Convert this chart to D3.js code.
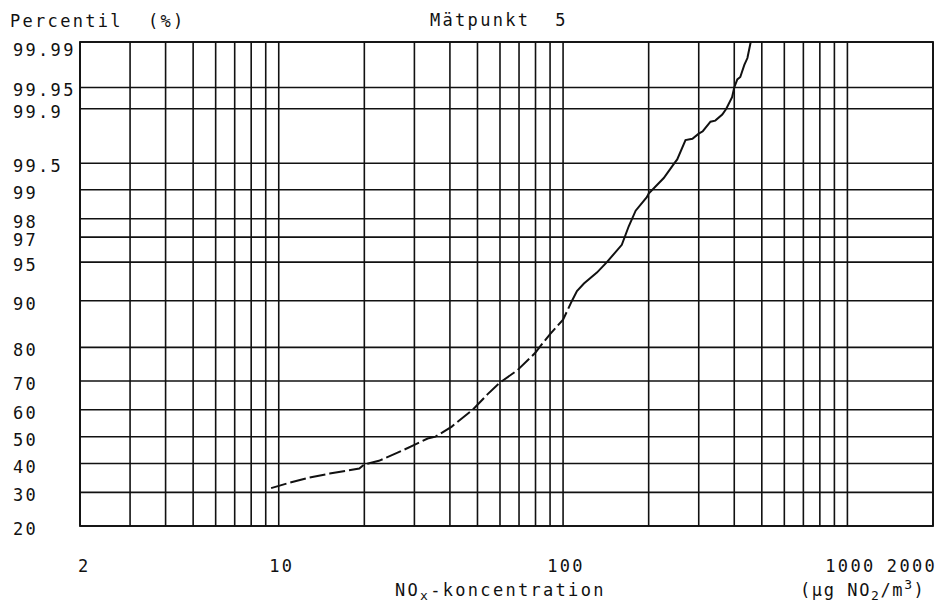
<!DOCTYPE html>
<html>
<head>
<meta charset="utf-8">
<script src="https://cdn.jsdelivr.net/npm/d3@7"></script>
<style>
  html, body { margin: 0; padding: 0; background: #fff; }
  svg text { font-family: "DejaVu Sans Mono", "Liberation Mono", monospace; fill: #111; }
</style>
</head>
<body>
<svg id="chart" width="943" height="604"></svg>
<script>
// ---- data ----
const concentration = [9.4, 10.9, 12.8, 15.1, 19.2, 20, 22.5, 26.3, 30, 33.4, 35.6, 40.6, 48.1, 54.2, 60, 69, 80, 83.2, 90, 100,
  107.5, 111.9, 118.4, 131.5, 142.6, 160.9, 170.2, 180, 197, 200, 226, 246, 252, 269.5, 285, 300, 310, 330, 343, 363, 375,
  393, 400, 410, 420, 434, 445, 457];
const percentile = [31.4, 33.2, 35.0, 36.4, 38.2, 39.7, 41.0, 44.1, 46.9, 49.3, 50.0, 53.8, 60, 65.5, 69.5, 73.4, 78.6, 80.3, 83.3, 86.5,
  90, 91.5, 92.55, 93.9, 95, 96.47, 97.63, 98.34, 98.8, 98.9, 99.26, 99.5, 99.55, 99.74, 99.75, 99.785, 99.80, 99.85, 99.855, 99.88, 99.9,
  99.931, 99.95, 99.962, 99.965, 99.977, 99.982, 99.99];
const dashedUntil = 107.5; // lower part of the trace is broken/dashed in the original

const xGridValues = [2, 3, 4, 5, 6, 7, 8, 9, 10, 20, 30, 40, 50, 60, 70, 80, 90, 100, 200, 300, 400, 500, 600, 700, 800, 900, 1000, 2000];
const xTickLabels = [2, 10, 100, 1000, 2000];
const yTicks = [20, 30, 40, 50, 60, 70, 80, 90, 95, 97, 98, 99, 99.5, 99.9, 99.95, 99.99];
const yTickLabels = ["20", "30", "40", "50", "60", "70", "80", "90", "95", "97", "98", "99", "99.5", "99.9", "99.95", "99.99"];

// ---- inverse normal CDF (Acklam) for the probability axis ----
function probit(p) {
  const a = [-3.969683028665376e+01, 2.209460984245205e+02, -2.759285104469687e+02, 1.383577518672690e+02, -3.066479806614716e+01, 2.506628277459239e+00];
  const b = [-5.447609879822406e+01, 1.615858368580409e+02, -1.556989798598866e+02, 6.680131188771972e+01, -1.328068155288572e+01];
  const c = [-7.784894002430293e-03, -3.223964580411365e-01, -2.400758277161838e+00, -2.549732539343734e+00, 4.374664141464968e+00, 2.938163982698783e+00];
  const d = [7.784695709041462e-03, 3.224671290700398e-01, 2.445134137142996e+00, 3.754408661907416e+00];
  const pl = 0.02425, ph = 1 - pl;
  let q, r;
  if (p < pl) {
    q = Math.sqrt(-2 * Math.log(p));
    return (((((c[0]*q+c[1])*q+c[2])*q+c[3])*q+c[4])*q+c[5]) / ((((d[0]*q+d[1])*q+d[2])*q+d[3])*q+1);
  } else if (p <= ph) {
    q = p - 0.5; r = q * q;
    return (((((a[0]*r+a[1])*r+a[2])*r+a[3])*r+a[4])*r+a[5])*q / (((((b[0]*r+b[1])*r+b[2])*r+b[3])*r+b[4])*r+1);
  } else {
    q = Math.sqrt(-2 * Math.log(1 - p));
    return -(((((c[0]*q+c[1])*q+c[2])*q+c[3])*q+c[4])*q+c[5]) / ((((d[0]*q+d[1])*q+d[2])*q+d[3])*q+1);
  }
}

// ---- layout ----
const svg = d3.select("#chart");
const plot = { left: 80, right: 933, top: 42, bottom: 526 };
const fontSize = 17, spacing = "2.3px";

const x = d3.scaleLog().domain([2, 2000]).range([plot.left, plot.right]);
const yz = d3.scaleLinear().domain([probit(0.20), probit(0.9999)]).range([plot.bottom, plot.top]);
const y = p => yz(probit(p / 100));

// grid
const grid = svg.append("g").attr("stroke", "#111").attr("stroke-width", 1.6).attr("fill", "none");
grid.selectAll("line.v").data(xGridValues).join("line")
  .attr("class", "v")
  .attr("x1", d => x(d)).attr("x2", d => x(d))
  .attr("y1", plot.top).attr("y2", plot.bottom);
grid.selectAll("line.h").data(yTicks).join("line")
  .attr("class", "h")
  .attr("x1", plot.left).attr("x2", plot.right)
  .attr("y1", d => y(d)).attr("y2", d => y(d));
grid.append("rect")
  .attr("x", plot.left).attr("y", plot.top)
  .attr("width", plot.right - plot.left).attr("height", plot.bottom - plot.top)
  .attr("stroke-width", 1.8);

// y tick labels
svg.append("g").selectAll("text").data(yTicks).join("text")
  .attr("x", 13)
  .attr("y", d => Math.max(y(d) + 3, plot.top + 8))
  .attr("dominant-baseline", "central")
  .attr("font-size", fontSize).attr("letter-spacing", spacing)
  .text((d, i) => yTickLabels[i]);

// x tick labels
svg.append("g").selectAll("text").data(xTickLabels).join("text")
  .attr("x", (d, i) => i === 0 ? x(d) - 2 : (i === xTickLabels.length - 1 ? x(d) + 4 : x(d) + 3))
  .attr("y", 572)
  .attr("text-anchor", (d, i) => i === 0 ? "start" : (i === xTickLabels.length - 1 ? "end" : "middle"))
  .attr("font-size", fontSize).attr("letter-spacing", spacing)
  .text(d => d);

// titles
svg.append("text").attr("x", 10).attr("y", 27).attr("font-size", fontSize).attr("letter-spacing", spacing)
  .attr("xml:space", "preserve").text("Percentil  (%)");
svg.append("text").attr("x", 430).attr("y", 26).attr("font-size", fontSize).attr("letter-spacing", spacing)
  .attr("xml:space", "preserve").text("Mätpunkt  5");

const xt = svg.append("text").attr("x", 395).attr("y", 596).attr("font-size", fontSize).attr("letter-spacing", spacing);
xt.append("tspan").text("NO");
xt.append("tspan").attr("font-size", 13).attr("dy", 4).text("x");
xt.append("tspan").attr("dy", -4).text("-koncentration");

const ut = svg.append("text").attr("x", 800).attr("y", 596).attr("font-size", fontSize).attr("letter-spacing", "1.6px")
  .attr("xml:space", "preserve");
ut.append("tspan").text("(µg NO");
ut.append("tspan").attr("font-size", 13).attr("dy", 4).text("2");
ut.append("tspan").attr("dy", -4).text("/m");
ut.append("tspan").attr("font-size", 13).attr("dy", -7).text("3");
ut.append("tspan").attr("dy", 7).text(")");

// data trace
const pts = concentration.map((c, i) => ({ c, p: percentile[i] }));
const line = d3.line().x(d => x(d.c)).y(d => y(d.p));
const lower = pts.filter(d => d.c <= dashedUntil);
const upper = pts.filter(d => d.c >= dashedUntil);
svg.append("path").datum(lower).attr("d", line)
  .attr("fill", "none").attr("stroke", "#111").attr("stroke-width", 2)
  .attr("stroke-dasharray", "16,4");
svg.append("path").datum(upper).attr("d", line)
  .attr("fill", "none").attr("stroke", "#111").attr("stroke-width", 2);
</script>
</body>
</html>
